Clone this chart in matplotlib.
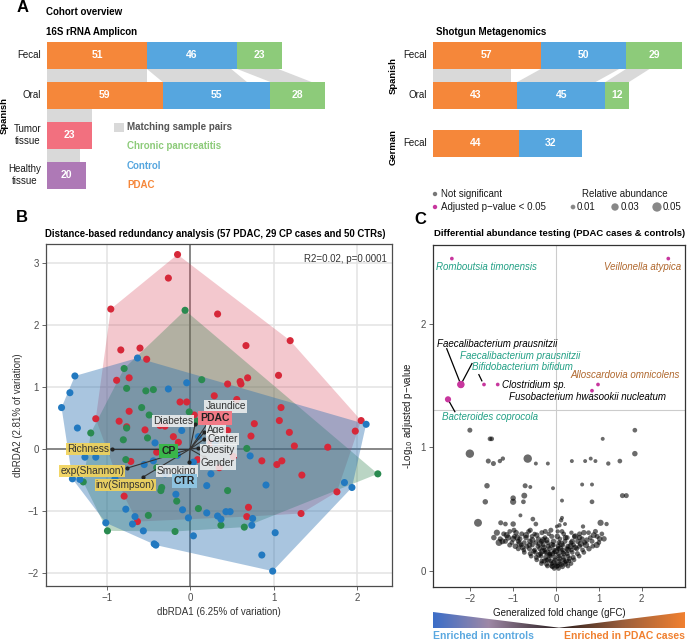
import numpy as np
import matplotlib
matplotlib.use('Agg')
import matplotlib.pyplot as plt
from matplotlib.patches import Polygon, Rectangle
from matplotlib.colors import LinearSegmentedColormap

plt.rcParams['font.family'] = ['Liberation Sans', 'DejaVu Sans']

# ---------------- DATA ----------------
# Panel A: 16S rRNA amplicon cohort
amp_rows = ['Fecal', 'Oral', 'Tumor\ntissue', 'Healthy\ntissue']
amp_pdac = [51, 59]
amp_ctrl = [46, 55]
amp_cp = [23, 28]
amp_tumor = 23
amp_healthy = 20
amp_match_fecal_oral = [51, 43, 21]        # PDAC, control, CP pairs
amp_match_oral_tumor = 23
amp_match_tumor_healthy = 17

# Panel A: shotgun metagenomics cohort
sg_rows = ['Fecal', 'Oral', 'Fecal']
sg_groups = ['Spanish', 'German']
sg_pdac = [57, 43, 44]
sg_ctrl = [50, 45, 32]
sg_cp = [29, 12, 0]
# bar lengths as drawn in the reference (Spanish fecal bar is drawn shorter than its labels)
sg_len_pdac = [55.0, 43.0, 44.0]
sg_len_ctrl = [43.5, 45.0, 32.0]
sg_len_cp = [28.7, 12.0, 0.0]
sg_match = [40, 40, 12]

# Panel B: dbRDA ordination
pdac_x = [-0.15, -0.26, -0.95, 0.33, -0.83, -0.60, -0.52, 0.67, 1.20, -0.73, -0.88, 1.06, 0.69, 0.60, 0.61,
          0.45, 0.29, 0.56, 1.09, -0.12, -0.04, -0.73, -1.13, -0.85, -0.76, -0.54, -0.36, -0.14, -0.71, -0.79,
          -0.63, 0.86, 1.04, 1.10, 1.34, 1.33, 0.52, 0.73, 0.77, 1.07, 1.19, 1.25, 1.65, 1.76, 0.68, 0.70,
          2.05, 1.98, 0.09, -0.30, 0.36, 0.05, 0.25, -0.40, 0.35, -0.20, 0.45]
pdac_y = [3.14, 2.76, 2.26, 2.18, 1.60, 1.63, 1.45, 1.67, 1.75, 1.15, 1.11, 1.19, 1.15, 1.09, 1.05,
          1.05, 0.86, 0.80, 0.67, 0.76, 0.76, 0.61, 0.49, 0.45, 0.36, 0.31, 0.38, 0.11, -0.20, -0.76,
          -1.17, -0.19, -0.25, -0.19, -0.42, -1.04, -0.12, 0.21, 0.41, 0.46, 0.27, 0.05, 0.03, -0.69, -1.09, -0.94,
          0.46, 0.29, -0.17, 0.37, 0.45, 0.55, 0.10, -0.05, -0.30, 0.20, 0.30]
cp_x = [-0.06, -0.79, 0.14, -0.76, -0.53, -0.44, -0.58, -0.01, -0.49, -0.76, -1.19, -0.51, -0.80, -0.77, -1.28,
        -0.35, -0.34, -0.16, -0.50, -0.99, -0.18, 0.10, 0.37, 0.65, 0.45, 0.68, 2.25, 0.08, -0.40]
cp_y = [2.24, 1.30, 1.12, 0.98, 0.94, 0.96, 0.67, 0.60, 0.55, 0.34, 0.26, 0.18, 0.15, -0.17, -0.53,
        -0.67, -0.62, -0.84, -1.07, -1.32, -1.33, -0.96, -1.23, -1.26, -0.67, 0.01, -0.40, 0.45, -0.30]
ctr_x = [-1.38, -1.44, -1.54, -0.63, -0.04, -0.26, -1.35, -0.42, -1.26, -1.13, -0.44, -1.41, -1.32, -0.17, -0.77,
         -0.09, -0.66, -0.69, -1.01, -0.56, -0.43, -0.41, -0.02, 0.04, 0.20, 0.33, 0.37, 0.43, 0.48, 0.75,
         0.74, 1.02, 0.86, 0.99, 0.20, 0.91, 0.72, 1.85, 1.94, 2.11, 0.04, -0.90, -0.15, 0.10, -0.30,
         0.25, -0.10, 0.30, -0.55, -0.05]
ctr_y = [1.18, 0.91, 0.67, 1.47, 1.07, 0.97, 0.34, 0.10, -0.13, -0.13, -0.19, -0.48, -0.49, -0.73, -0.97,
         -0.98, -1.09, -1.21, -1.19, -1.32, -1.53, -1.55, -1.11, -1.40, -1.03, -1.08, -1.13, -1.01, -1.01, -1.12,
         -1.23, -1.35, -1.71, -1.97, -0.59, -0.58, -0.11, -0.54, -0.62, 0.40, -0.21, -0.48, -0.10, 0.20, -0.40,
         -0.40, 0.30, 0.10, -0.25, -0.45]

bi_names = ['Richness', 'exp(Shannon)', 'inv(Simpson)', 'Smoking', 'Diabetes', 'Jaundice', 'Age', 'Center', 'Obesity', 'Gender']
bi_x = [-0.94, -0.76, -0.56, -0.01, 0.06, 0.29, 0.17, 0.17, 0.10, 0.17]
bi_y = [0.00, -0.31, -0.45, -0.21, 0.40, 0.58, 0.27, 0.16, 0.02, -0.13]
centroid_names = ['PDAC', 'CP', 'CTR']
centroid_x = [0.30, -0.26, -0.07]
centroid_y = [0.50, -0.03, -0.52]

# Panel C: differential abundance (gFC, -log10 adj p, relative abundance)
sig_names = ['Romboutsia timonensis', 'Veillonella atypica', 'Faecalibacterium prausnitzii',
             'Faecalibacterium prausnitzii', 'Bifidobacterium bifidum', 'Clostridium sp.',
             'Alloscardovia omnicolens', 'Fusobacterium hwasookii nucleatum', 'Bacteroides coprocola']
sig_x = [-2.43, 2.62, -2.22, -2.22, -1.68, -1.36, 0.98, 0.84, -2.52]
sig_y = [2.53, 2.53, 1.51, 1.51, 1.51, 1.51, 1.51, 1.46, 1.39]
sig_ab = [0.005, 0.005, 0.03, 0.025, 0.005, 0.005, 0.005, 0.005, 0.02]

ns_pts = [
    (-2.01, 1.14, 0.012), (-1.54, 1.07, 0.01), (-1.50, 1.07, 0.01), (-2.01, 0.95, 0.04), (-1.58, 0.89, 0.012),
    (-1.46, 0.87, 0.012), (-1.31, 0.89, 0.008), (-1.24, 0.91, 0.008), (-0.66, 0.91, 0.04), (-0.47, 0.87, 0.006),
    (-0.19, 0.87, 0.006), (0.37, 0.89, 0.006), (0.68, 0.89, 0.006), (0.81, 0.91, 0.006), (0.92, 0.89, 0.006),
    (1.22, 0.87, 0.008), (1.49, 0.89, 0.01), (1.84, 1.14, 0.01), (1.84, 0.95, 0.015), (1.09, 1.07, 0.006),
    (-1.61, 0.69, 0.015), (-0.72, 0.69, 0.012), (-0.60, 0.68, 0.006), (-0.07, 0.67, 0.006), (0.61, 0.70, 0.006),
    (0.84, 0.70, 0.006), (-1.65, 0.56, 0.015), (-1.00, 0.59, 0.015), (-1.00, 0.56, 0.02), (-0.74, 0.61, 0.018),
    (-0.76, 0.56, 0.01), (0.14, 0.57, 0.006), (0.84, 0.56, 0.01), (1.55, 0.61, 0.012), (1.64, 0.61, 0.012),
    (-1.82, 0.39, 0.035), (-0.83, 0.45, 0.006), (-0.54, 0.42, 0.01), (-1.00, 0.38, 0.015), (-1.29, 0.39, 0.012),
    (-1.18, 0.38, 0.01), (-0.47, 0.38, 0.01), (0.02, 0.36, 0.006), (0.14, 0.43, 0.006), (0.21, 0.38, 0.006),
    (0.63, 0.36, 0.008), (1.04, 0.39, 0.02), (1.18, 0.38, 0.008), (-0.98, 0.33, 0.012),
    (-1.38, 0.31, 0.02), (-1.22, 0.30, 0.012), (-1.08, 0.32, 0.01), (-0.93, 0.31, 0.015), (-0.80, 0.30, 0.012),
    (-0.64, 0.32, 0.01), (-0.50, 0.30, 0.008), (-0.33, 0.31, 0.012), (-0.17, 0.30, 0.008), (0.04, 0.32, 0.008),
    (0.18, 0.30, 0.01), (0.36, 0.31, 0.008), (0.55, 0.30, 0.012), (0.76, 0.31, 0.01), (0.92, 0.32, 0.012),
    (1.07, 0.30, 0.01), (-1.45, 0.27, 0.015), (-1.30, 0.26, 0.012), (-1.12, 0.27, 0.02), (-0.97, 0.28, 0.01),
    (-0.84, 0.26, 0.012), (-0.70, 0.27, 0.015), (-0.56, 0.28, 0.01), (-0.41, 0.26, 0.012), (-0.26, 0.27, 0.01),
    (-0.10, 0.28, 0.012), (0.09, 0.26, 0.01), (0.26, 0.27, 0.012), (0.43, 0.28, 0.01), (0.61, 0.26, 0.012),
    (0.80, 0.27, 0.01), (0.96, 0.28, 0.012), (1.12, 0.26, 0.015), (-1.33, 0.23, 0.025), (-1.18, 0.24, 0.012),
    (-1.03, 0.23, 0.01), (-0.88, 0.24, 0.012), (-0.74, 0.23, 0.01), (-0.61, 0.24, 0.015), (-0.47, 0.23, 0.01),
    (-0.34, 0.24, 0.012), (-0.20, 0.23, 0.01), (-0.06, 0.24, 0.015), (0.07, 0.23, 0.01), (0.21, 0.24, 0.012),
    (0.35, 0.23, 0.01), (0.51, 0.24, 0.015), (0.67, 0.23, 0.01), (0.84, 0.24, 0.012), (1.00, 0.23, 0.01),
    (-1.08, 0.21, 0.012), (-0.95, 0.20, 0.015), (-0.81, 0.21, 0.01), (-0.68, 0.20, 0.012), (-0.55, 0.21, 0.01),
    (-0.42, 0.20, 0.012), (-0.30, 0.21, 0.01), (-0.18, 0.20, 0.012), (-0.06, 0.21, 0.01), (0.05, 0.20, 0.012),
    (0.16, 0.21, 0.01), (0.28, 0.20, 0.012), (0.41, 0.21, 0.01), (0.55, 0.20, 0.012), (0.70, 0.21, 0.02),
    (0.86, 0.20, 0.01), (-0.88, 0.18, 0.012), (-0.75, 0.17, 0.01), (-0.62, 0.18, 0.012), (-0.50, 0.17, 0.01),
    (-0.38, 0.18, 0.012), (-0.27, 0.17, 0.01), (-0.15, 0.18, 0.012), (-0.05, 0.17, 0.01), (0.05, 0.18, 0.012),
    (0.15, 0.17, 0.01), (0.25, 0.18, 0.012), (0.36, 0.17, 0.01), (0.48, 0.18, 0.012), (0.62, 0.17, 0.01),
    (0.77, 0.18, 0.015), (-0.74, 0.15, 0.01), (-0.60, 0.14, 0.012), (-0.48, 0.15, 0.01), (-0.36, 0.14, 0.012),
    (-0.25, 0.15, 0.01), (-0.14, 0.14, 0.012), (-0.04, 0.15, 0.01), (0.06, 0.14, 0.012), (0.16, 0.15, 0.01),
    (0.26, 0.14, 0.012), (0.38, 0.15, 0.01), (0.50, 0.14, 0.012), (0.65, 0.15, 0.01), (-0.58, 0.12, 0.01),
    (-0.46, 0.11, 0.012), (-0.35, 0.12, 0.01), (-0.24, 0.11, 0.012), (-0.13, 0.12, 0.01), (-0.03, 0.11, 0.012),
    (0.07, 0.12, 0.01), (0.17, 0.11, 0.012), (0.28, 0.12, 0.01), (0.40, 0.11, 0.012), (0.54, 0.12, 0.01),
    (-0.45, 0.09, 0.01), (-0.33, 0.08, 0.012), (-0.22, 0.09, 0.01), (-0.12, 0.08, 0.012), (-0.02, 0.09, 0.01),
    (0.08, 0.08, 0.012), (0.18, 0.09, 0.01), (0.30, 0.08, 0.012), (0.42, 0.09, 0.01), (-0.34, 0.06, 0.01),
    (-0.22, 0.055, 0.012), (-0.10, 0.06, 0.01), (0.00, 0.055, 0.012), (0.10, 0.06, 0.01), (0.22, 0.055, 0.012),
    (0.35, 0.06, 0.01), (-0.20, 0.04, 0.01), (-0.08, 0.035, 0.012), (0.04, 0.04, 0.01), (0.15, 0.035, 0.012),
    (0.28, 0.04, 0.01), (-0.04, 0.02, 0.01), (0.06, 0.02, 0.01),
    # denser core
    (-0.70, 0.29, 0.02), (-0.55, 0.25, 0.018), (-0.45, 0.29, 0.015), (-0.38, 0.22, 0.02), (-0.28, 0.19, 0.015),
    (-0.22, 0.25, 0.018), (-0.15, 0.13, 0.015), (-0.10, 0.21, 0.02), (-0.05, 0.07, 0.015), (0.00, 0.16, 0.02),
    (0.03, 0.28, 0.015), (0.08, 0.10, 0.015), (0.12, 0.22, 0.02), (0.18, 0.14, 0.015), (0.22, 0.27, 0.015),
    (0.28, 0.17, 0.018), (0.32, 0.10, 0.012), (0.38, 0.24, 0.015), (0.45, 0.19, 0.015), (0.55, 0.27, 0.015),
    (-0.85, 0.22, 0.02), (-1.00, 0.26, 0.018), (-1.15, 0.29, 0.02), (-1.25, 0.24, 0.018), (-0.62, 0.21, 0.015),
    (-0.32, 0.16, 0.018), (-0.18, 0.09, 0.015), (-0.08, 0.14, 0.012), (0.02, 0.04, 0.015), (0.12, 0.05, 0.012),
    (0.24, 0.08, 0.015), (-0.28, 0.08, 0.012), (-0.40, 0.13, 0.015), (-0.52, 0.16, 0.012), (0.58, 0.22, 0.02),
    (0.72, 0.25, 0.015), (0.88, 0.29, 0.018), (1.02, 0.26, 0.015), (0.95, 0.21, 0.02), (0.65, 0.31, 0.015),
    (-0.12, 0.33, 0.012), (0.14, 0.32, 0.01), (0.08, 0.37, 0.008), (0.12, 0.41, 0.008), (-0.25, 0.32, 0.012),
    (-0.60, 0.33, 0.012), (-0.90, 0.27, 0.02), (-0.78, 0.19, 0.015), (-0.20, 0.15, 0.02), (0.10, 0.18, 0.02),
    (0.34, 0.20, 0.02), (0.20, 0.07, 0.012), (-0.10, 0.04, 0.012), (-0.30, 0.25, 0.02), (0.45, 0.28, 0.02),
]
ns_x = [p[0] for p in ns_pts]
ns_y = [p[1] for p in ns_pts]
ns_ab = [p[2] for p in ns_pts]
size_legend = [0.01, 0.03, 0.05]

# ---------------- STYLE ----------------
ORANGE = '#F5873A'; BLUE = '#56A6DF'; GREEN = '#8DCB7A'; PINK = '#F2707F'; PURPLE = '#AE79B6'
BAND = '#D9D9D9'
C_PDAC = '#D62839'; C_CP = '#2A8A50'; C_CTR = '#2279C0'
TEAL = '#22A085'; BROWN = '#B0682E'; MAG = '#C8379E'
FS = 7

W, H = 689, 640
fig = plt.figure(figsize=(W / 100, H / 100), dpi=100)


def px_axes(l, t, r, b, **kw):
    return fig.add_axes([l / W, 1 - b / H, (r - l) / W, (b - t) / H], **kw)


def ftext(x, y, s, **kw):
    return fig.text(x / W, 1 - y / H, s, **kw)


PXU = 1.96  # pixels per sample in panel A
BH = 0.675

# ---------------- Panel A (left) ----------------
axA = px_axes(47, 35.5, 345, 195.5)
axA.set_xlim(0, (345 - 47) / PXU)
axA.set_ylim(3.5, -0.5)
axA.axis('off')

tops = [0, amp_pdac[0], amp_pdac[0] + amp_ctrl[0]]
bots = [0, amp_pdac[1], amp_pdac[1] + amp_ctrl[1]]
for t0, b0, m in zip(tops, bots, amp_match_fecal_oral):
    axA.add_patch(Polygon([(t0, BH / 2), (t0 + m, BH / 2), (b0 + m, 1 - BH / 2), (b0, 1 - BH / 2)],
                          closed=True, fc=BAND, ec='none'))
axA.add_patch(Polygon([(0, 1 + BH / 2), (amp_match_oral_tumor, 1 + BH / 2),
                       (amp_match_oral_tumor, 2 - BH / 2), (0, 2 - BH / 2)], fc=BAND, ec='none'))
axA.add_patch(Polygon([(0, 2 + BH / 2), (amp_match_tumor_healthy, 2 + BH / 2),
                       (amp_match_tumor_healthy, 3 - BH / 2), (0, 3 - BH / 2)], fc=BAND, ec='none'))

for r in range(2):
    left = 0
    for v, c in zip([amp_pdac[r], amp_ctrl[r], amp_cp[r]], [ORANGE, BLUE, GREEN]):
        axA.barh(r, v, left=left, height=BH, color=c)
        axA.text(left + v / 2, r, str(v), color='white', fontweight='bold', fontsize=7.5, ha='center', va='center')
        left += v
axA.barh(2, amp_tumor, height=BH, color=PINK)
axA.text(amp_tumor / 2, 2, str(amp_tumor), color='white', fontweight='bold', fontsize=7.5, ha='center', va='center')
axA.barh(3, amp_healthy, height=BH, color=PURPLE)
axA.text(amp_healthy / 2, 3, str(amp_healthy), color='white', fontweight='bold', fontsize=7.5, ha='center', va='center')
for r, lab in enumerate(amp_rows):
    axA.text(-3, r, lab, ha='right', va='center', fontsize=7, color='#1a1a1a', linespacing=1.25,
             multialignment='center')

ftext(23, 8, 'A', fontsize=12, fontweight='bold', ha='center', va='center')
ftext(46, 12, 'Cohort overview', fontsize=FS, fontweight='bold', va='center')
ftext(46, 32, '16S rRNA Amplicon', fontsize=FS, fontweight='bold', va='center')
ftext(4, 115, 'Spanish', fontsize=6.8, fontweight='bold', rotation=90, ha='center', va='center')

fig.patches.append(Rectangle((114 / W, 1 - 131.5 / H), 10 / W, 9 / H, transform=fig.transFigure, fc=BAND, ec='none'))
ftext(127, 127, 'Matching sample pairs', fontsize=FS, fontweight='bold', color='#555555', va='center')
ftext(127, 146, 'Chronic pancreatitis', fontsize=FS, fontweight='bold', color=GREEN, va='center')
ftext(127, 166, 'Control', fontsize=FS, fontweight='bold', color=BLUE, va='center')
ftext(127, 185, 'PDAC', fontsize=FS, fontweight='bold', color=ORANGE, va='center')

# ---------------- Panel A (right) ----------------
axS = px_axes(433, 35.5, 689, 195.5)
axS.set_xlim(0, (689 - 433) / PXU)
axS.set_ylim(3.5, -0.5)
axS.axis('off')
sg_pos = [0, 1, 2.2]
t_starts = [0, sg_len_pdac[0], sg_len_pdac[0] + sg_len_ctrl[0]]
b_starts = [0, sg_len_pdac[1], sg_len_pdac[1] + sg_len_ctrl[1]]
for t0, b0, m in zip(t_starts, b_starts, sg_match):
    axS.add_patch(Polygon([(t0, BH / 2), (t0 + m, BH / 2), (b0 + m, 1 - BH / 2), (b0, 1 - BH / 2)],
                          closed=True, fc=BAND, ec='none'))
for i in range(3):
    left = 0
    for v, ln, c in zip([sg_pdac[i], sg_ctrl[i], sg_cp[i]], [sg_len_pdac[i], sg_len_ctrl[i], sg_len_cp[i]],
                        [ORANGE, BLUE, GREEN]):
        if v == 0:
            continue
        axS.barh(sg_pos[i], ln, left=left, height=BH, color=c)
        axS.text(left + ln / 2, sg_pos[i], str(v), color='white', fontweight='bold', fontsize=7.5,
                 ha='center', va='center')
        left += ln
    axS.text(-3, sg_pos[i], sg_rows[i], ha='right', va='center', fontsize=7, color='#1a1a1a')
ftext(436, 32, 'Shotgun Metagenomics', fontsize=FS, fontweight='bold', va='center')
ftext(393, 76, sg_groups[0], fontsize=6.8, fontweight='bold', rotation=90, ha='center', va='center')
ftext(393, 147, sg_groups[1], fontsize=6.8, fontweight='bold', rotation=90, ha='center', va='center')

# ---------------- Panel B ----------------
axB = px_axes(45.7, 244, 392, 586)
axB.set_xlim(-1.73, 2.42)
axB.set_ylim(-2.21, 3.31)
axB.set_xticks([-1, 0, 1, 2])
axB.set_yticks([-2, -1, 0, 1, 2, 3])
axB.set_xticklabels(['\u22121', '0', '1', '2'])
axB.set_yticklabels(['\u22122', '\u22121', '0', '1', '2', '3'])
axB.grid(True, color='#E3E3E3', lw=1.1, zorder=0)
axB.set_axisbelow(True)
axB.axhline(0, color='#6E6E6E', lw=1.1, zorder=1)
axB.axvline(0, color='#6E6E6E', lw=1.1, zorder=1)
for sp in axB.spines.values():
    sp.set_color('#4D4D4D'); sp.set_linewidth(0.9)
axB.tick_params(labelsize=FS, colors='#4D4D4D', length=3, width=0.6, pad=2)
axB.set_xlabel('dbRDA1 (6.25% of variation)', fontsize=FS, color='#333333', labelpad=3)
axB.set_ylabel('dbRDA2 (2.81% of variation)', fontsize=FS, color='#333333', labelpad=3)


def convex_hull(xs, ys):
    pts = sorted(set(zip(xs, ys)))

    def cross(o, a, b):
        return (a[0] - o[0]) * (b[1] - o[1]) - (a[1] - o[1]) * (b[0] - o[0])
    lower, upper = [], []
    for p in pts:
        while len(lower) >= 2 and cross(lower[-2], lower[-1], p) <= 0:
            lower.pop()
        lower.append(p)
    for p in reversed(pts):
        while len(upper) >= 2 and cross(upper[-2], upper[-1], p) <= 0:
            upper.pop()
        upper.append(p)
    return lower[:-1] + upper[:-1]


for xs, ys, fc, a in [(pdac_x, pdac_y, '#D84A5E', 0.3), (cp_x, cp_y, '#2A7F48', 0.32), (ctr_x, ctr_y, '#2A6FB0', 0.4)]:
    h = convex_hull(xs, ys)
    axB.add_patch(Polygon(h, closed=True, fc=fc, ec='none', alpha=a, zorder=2))
for xs, ys, c in [(pdac_x, pdac_y, C_PDAC), (cp_x, cp_y, C_CP), (ctr_x, ctr_y, C_CTR)]:
    axB.scatter(xs, ys, s=26, color=c, edgecolors='none', zorder=3)

for x, y in zip(bi_x, bi_y):
    axB.plot([0, x], [0, y], color='#333333', lw=0.8, zorder=4)
axB.scatter(bi_x, bi_y, s=4, color='#222222', zorder=5)

bi_lab = {  # name: (x, y, ha, style)
    'Richness': (-0.97, 0.0, 'right', 'div'), 'exp(Shannon)': (-0.79, -0.355, 'right', 'div'),
    'inv(Simpson)': (-0.42, -0.58, 'right', 'div'), 'Smoking': (-0.16, -0.355, 'center', 'var'),
    'Diabetes': (0.035, 0.45, 'right', 'var'), 'Jaundice': (0.43, 0.69, 'center', 'var'),
    'Age': (0.20, 0.31, 'left', 'var'), 'Center': (0.21, 0.16, 'left', 'var'),
    'Obesity': (0.13, -0.02, 'left', 'var'), 'Gender': (0.13, -0.23, 'left', 'var'),
}
for name in bi_names:
    x, y, ha, st = bi_lab[name]
    fc = '#F1D35A' if st == 'div' else '#F2F2F2'
    axB.text(x, y, name, ha=ha, va='center', fontsize=7.3, color='#333333', zorder=6,
             bbox=dict(boxstyle='square,pad=0.12', fc=fc, ec='none', alpha=0.92 if st == 'div' else 0.85))
for name, x, y, fc in zip(centroid_names, centroid_x, centroid_y, ['#F27A86', '#39B54A', '#8EC3E0']):
    axB.text(x, y, name, ha='center', va='center', fontsize=7.5, fontweight='bold', color='#222222', zorder=7,
             bbox=dict(boxstyle='square,pad=0.2', fc=fc, ec='none'))
axB.text(0.985, 0.97, 'R2=0.02, p=0.0001', transform=axB.transAxes, ha='right', va='top', fontsize=FS,
         color='#333333')
ftext(22, 218, 'B', fontsize=12, fontweight='bold', ha='center', va='center')
ftext(45, 234, 'Distance-based redundancy analysis (57 PDAC, 29 CP cases and 50 CTRs)', fontsize=6.95,
      fontweight='bold', va='center')

# ---------------- Panel C ----------------
axC = px_axes(433, 245, 685, 587)
axC.set_xlim(-2.87, 3.01)
axC.set_ylim(-0.13, 2.64)
axC.set_xticks([-2, -1, 0, 1, 2])
axC.set_yticks([0, 1, 2])
axC.set_xticklabels(['\u22122', '\u22121', '0', '1', '2'])
for sp in axC.spines.values():
    sp.set_color('#333333'); sp.set_linewidth(0.9)
axC.tick_params(labelsize=FS, colors='#4D4D4D', length=3, width=0.6, pad=2)
axC.axvline(0, color='#CCCCCC', lw=0.8, zorder=0)
axC.axhline(-np.log10(0.05), color='#CCCCCC', lw=0.8, zorder=0)


def sz(a):
    return 3 + 840 * np.asarray(a)


axC.scatter(ns_x, ns_y, s=sz(ns_ab), color='black', alpha=0.58, edgecolors='none', zorder=2)
axC.scatter(sig_x, sig_y, s=sz(sig_ab), color=MAG, edgecolors='none', zorder=3)

c_lab = [  # (x, y, ha, color)
    (-2.80, 2.46, 'left', TEAL), (2.92, 2.46, 'right', BROWN), (-2.78, 1.84, 'left', 'black'),
    (-2.24, 1.74, 'left', TEAL), (-1.96, 1.65, 'left', TEAL), (-1.26, 1.51, 'left', 'black'),
    (2.90, 1.59, 'right', BROWN), (-1.10, 1.41, 'left', 'black'), (-2.66, 1.25, 'left', TEAL),
]
for name, (x, y, ha, c) in zip(sig_names, c_lab):
    axC.text(x, y, name, ha=ha, va='center', fontsize=FS, style='italic', color=c, zorder=4)
seg = [((-2.55, 1.80), (sig_x[2], sig_y[2])), ((-1.96, 1.68), (sig_x[3], sig_y[3])),
       ((-1.80, 1.59), (sig_x[4] - 0.05, sig_y[4] + 0.03)), ((sig_x[8], sig_y[8]), (-2.36, 1.29))]
for (x0, y0), (x1, y1) in seg:
    axC.plot([x0, x1], [y0, y1], color='black', lw=0.9, zorder=2.5)
axC.set_xlabel('Generalized fold change (gFC)', fontsize=FS, color='#1a1a1a', labelpad=3)
axC.set_ylabel('-Log$_{10}$ adjusted p\u2212value', fontsize=FS, color='#1a1a1a', labelpad=4)
ftext(420, 219, 'C', fontsize=12, fontweight='bold', ha='center', va='center')
ftext(434, 234, 'Differential abundance testing (PDAC cases & controls)', fontsize=6.8, fontweight='bold',
      va='center')

# legend for C
axL = px_axes(0, 0, W, H)
axL.set_xlim(0, W); axL.set_ylim(H, 0); axL.axis('off')
axL.scatter([435], [194], s=10, color='#777777', edgecolors='none')
axL.scatter([435], [207], s=10, color=MAG, edgecolors='none')
ftext(441, 194, 'Not significant', fontsize=FS, va='center', color='#1a1a1a')
ftext(441, 207, 'Adjusted p\u2212value < 0.05', fontsize=FS, va='center', color='#1a1a1a')
ftext(625, 194, 'Relative abundance', fontsize=FS, va='center', ha='center', color='#1a1a1a')
for xx, a in zip([573, 615, 657], size_legend):
    axL.scatter([xx], [207], s=sz(a), color='#888888', edgecolors='none')
    ftext(xx + 2 + np.sqrt(sz(a)) * 0.6, 207, f'{a:.2f}', fontsize=FS, va='center', color='#1a1a1a')

# gradient bar
axG = px_axes(433, 612, 685, 628)
axG.set_xlim(0, 1); axG.set_ylim(0, 1); axG.axis('off')
cmap = LinearSegmentedColormap.from_list('g', [(0, '#3C6EC8'), (0.22, '#9E88A6'), (0.5, '#2A1E1E'),
                                               (0.75, '#9A5E3C'), (1, '#F08030')])
im = axG.imshow(np.linspace(0, 1, 256)[None, :], cmap=cmap, aspect='auto', extent=(0, 1, 0, 1))
clip = Polygon([(0, 1), (0, 0), (1, 0), (1, 1), (0.5, 0.02)], closed=True, transform=axG.transData, fc='none', ec='none')
axG.add_patch(clip)
im.set_clip_path(clip)
ftext(433, 636, 'Enriched in controls', fontsize=7.5, fontweight='bold', color='#5AA8E0', va='center')
ftext(685, 636, 'Enriched in PDAC cases', fontsize=7.5, fontweight='bold', color='#F08030', va='center', ha='right')

fig.savefig('out.png', dpi=100)
